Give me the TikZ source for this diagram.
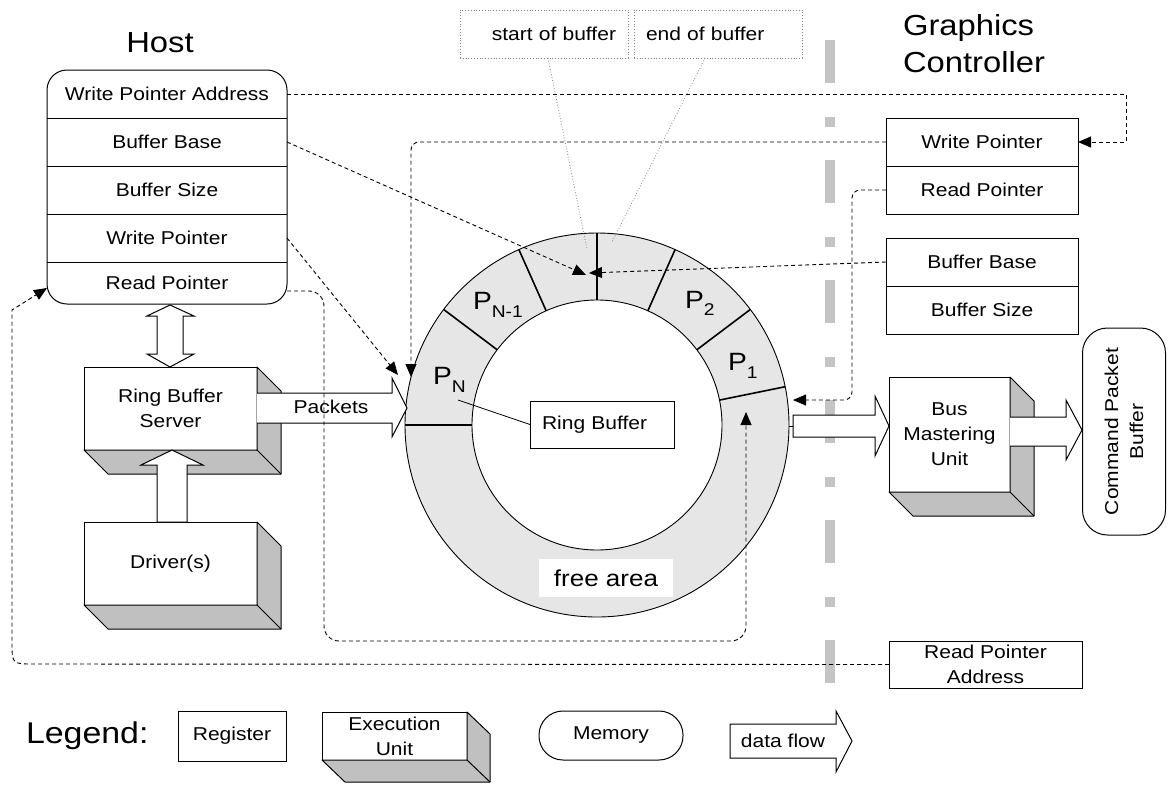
\documentclass[tikz,border=0pt]{standalone}
\usepackage{fontspec}
\setmainfont{Liberation Sans}[FakeStretch=1.13]
\usetikzlibrary{arrows.meta,calc}
\definecolor{shadegray}{HTML}{C0C0C0}
\definecolor{ringfill}{HTML}{E6E6E6}
\definecolor{divgray}{HTML}{C4C4C4}
\definecolor{dotgray}{HTML}{808080}
\newcommand\boxshade[1]{%
  \filldraw[fill=shadegray, line width=1pt, line join=round] (#1.north east) -- ++(24,24) -- ([shift={(24,24)}]#1.south east) -- ([shift={(24,24)}]#1.south west) -- (#1.south west) -- (#1.south east) -- cycle;
  \draw[line width=1pt] (#1.south east) -- ++(24,24);}
\newcommand\legshade[1]{%
  \filldraw[fill=shadegray, line width=1pt, line join=round] (#1.north east) -- ++(23,22) -- ([shift={(23,22)}]#1.south east) -- ([shift={(23,22)}]#1.south west) -- (#1.south west) -- (#1.south east) -- cycle;
  \draw[line width=1pt] (#1.south east) -- ++(23,22);}
\begin{document}
\begin{tikzpicture}[x=1pt,y=-1pt,
  every node/.style={font=\fontsize{18.6}{25}\selectfont, inner sep=0pt, outer sep=0pt},
  reg/.style={draw, line width=1pt, minimum width=192pt, minimum height=48pt},
  hostrow/.style={minimum width=240pt, minimum height=48pt},
  execbox/.style={draw, line width=1pt, fill=white, align=center},
  ptr/.style={dash pattern=on 4pt off 3pt, line width=0.9pt},
  ptrarrow/.style={ptr, -{Triangle[length=13pt,width=11pt]}},
  flowarrow/.style={draw, fill=white, line width=1pt, line join=miter},
  dotbox/.style={draw=dotgray, dotted, line width=0.8pt, minimum width=168pt, minimum height=48pt, text width=144pt},
]
\useasboundingbox (0,0) rectangle (1170,785);

% divider between host and graphics controller
\draw[divgray, line width=10pt, dash pattern=on 43pt off 34pt on 10pt off 33pt] (830,40) -- (830,683);

% ---------------- Host ----------------
\node[font=\fontsize{29}{32}\selectfont] (hosttitle) at (160,43) {Host};
\node[draw, line width=1pt, rounded corners=20pt, minimum width=240pt, minimum height=234pt] (host) at (167,187) {};
\node[hostrow] (hwpa) at (167,94) {Write Pointer Address};
\node[hostrow] (hbb) at (167,142) {Buffer Base};
\node[hostrow] (hbs) at (167,190) {Buffer Size};
\node[hostrow] (hwp) at (167,238) {Write Pointer};
\node[hostrow, minimum height=42pt] (hrp) at (167,283) {Read Pointer};
\foreach \r in {hwpa,hbb,hbs,hwp} \draw[line width=1pt] (\r.south west) -- (\r.south east);

% Ring Buffer Server and Driver(s)
\node[execbox, minimum width=173pt, minimum height=83pt] (rbs) at (170.5,408.5) {Ring Buffer\\Server};
\boxshade{rbs}
\node[execbox, minimum width=173pt, minimum height=83pt] (drv) at (170.5,563.5) {Driver(s)};
\boxshade{drv}

% double arrow host <-> server
\filldraw[flowarrow] (170,305) -- (194,316) -- (183,316) -- (183,354) -- (194,354) -- (170,367) -- (147,354) -- (157,354) -- (157,316) -- (147,316) -- cycle;
% up arrow driver -> server
\filldraw[flowarrow] (172,450) -- (203,465) -- (187,465) -- (187,522) -- (157,522) -- (157,465) -- (141,465) -- cycle;

% ---------------- Ring ----------------
\coordinate (rc) at (597,425);
\fill[ringfill, even odd rule] (rc) circle[radius=192pt] (rc) circle[radius=125pt];
\draw[line width=0.9pt] (rc) circle[radius=192pt];
\draw[line width=0.9pt] (rc) circle[radius=125pt];
\foreach \a in {11.5,37,66,114,143,180}
  \draw[line width=1.6pt] ($(rc)+(\a:125pt)$) -- ($(rc)+(\a:192pt)$);
\draw[line width=2.8pt] ($(rc)+(90:125pt)$) -- ($(rc)+(90:192pt)$);

\node[anchor=base west, font=\fontsize{25}{25}\selectfont] (pn) at (433,384) {P\raisebox{-8pt}{\fontsize{17}{17}\selectfont N}};
\node[anchor=base west, font=\fontsize{25}{25}\selectfont] (pn1) at (473,309) {P\raisebox{-8pt}{\fontsize{17}{17}\selectfont N-1}};
\node[anchor=base west, font=\fontsize{25}{25}\selectfont] (p2) at (685,308) {P\raisebox{-7pt}{\fontsize{17}{17}\selectfont 2}};
\node[anchor=base west, font=\fontsize{25}{25}\selectfont] (p1) at (728,370) {P\raisebox{-8pt}{\fontsize{17}{17}\selectfont 1}};

\node[draw, line width=1pt, fill=white, minimum width=144pt, minimum height=47pt, text width=120pt, align=left] (rblab) at (602,424.5) {Ring Buffer};
\coordinate (pnleader) at (458,400);
\draw[line width=0.8pt] (pnleader) -- (rblab.west);
\node[fill=white, minimum width=134pt, minimum height=38pt, font=\fontsize{23}{23}\selectfont] (free) at (606,578) {free area};

% packets arrow
\filldraw[fill=white, draw=none] (257,393) -- (392,393) -- (392,378) -- (407,408) -- (392,437) -- (392,423) -- (257,423) -- cycle;
\draw[line width=1pt, line join=miter] (257,393) -- (392,393) -- (392,378) -- (407,408) -- (392,437) -- (392,423) -- (257,423);
\node (packets) at (331,407) {Packets};

% start / end of buffer
\node[dotbox, align=right] (sob) at (544,34) {start of buffer};
\node[dotbox, align=left] (eob) at (718,34) {end of buffer};
\coordinate (sobtip) at (587,249);
\coordinate (eobtip) at (612,242);
\draw[dotgray, dotted, line width=0.8pt] ([xshift=4pt]sob.south) -- (sobtip);
\draw[dotgray, dotted, line width=0.8pt] ([xshift=-13pt]eob.south) -- (eobtip);

% ---------------- Graphics Controller ----------------
\node[anchor=north west, align=left, font=\fontsize{29}{37}\selectfont] (gctitle) at (903,14) {Graphics\\Controller};
\node[reg] (gcwp) at (982,142) {Write Pointer};
\node[reg] (gcrp) at (982,190) {Read Pointer};
\node[reg] (gcbb) at (982,262) {Buffer Base};
\node[reg] (gcbs) at (982,310) {Buffer Size};
\node[execbox, minimum width=121pt, minimum height=115pt] (bmu) at (949.5,434.5) {Bus\\Mastering\\Unit};
\boxshade{bmu}
\node[draw, line width=1pt, rounded corners=25pt, rotate=90, minimum width=207pt, minimum height=83pt, align=center] (cpb) at (1124,431.5) {Command Packet\\Buffer};
\node[draw, line width=1pt, minimum width=193pt, minimum height=47pt, align=center] (gcrpa) at (985.5,664.5) {Read Pointer\\Address};

% ring -> bus mastering unit
\draw[line width=1pt] (789,426) -- (793,426);
\filldraw[flowarrow] (793,415) -- (875,415) -- (875,396) -- (889,426) -- (875,456) -- (875,437) -- (793,437) -- cycle;
% bus mastering unit -> command packet buffer
\filldraw[fill=white, draw=none] (1010,417) -- (1066,417) -- (1066,400) -- (1082,430) -- (1066,460) -- (1066,446) -- (1010,446) -- cycle;
\draw[line width=1pt, line join=miter] (1010,417) -- (1066,417) -- (1066,400) -- (1082,430) -- (1066,460) -- (1066,446) -- (1010,446);

% ---------------- pointer connectors ----------------
\coordinate (wpcorner) at (1126,94);
\coordinate (wpdown) at (1126,142);
\draw[ptrarrow] (hwpa.east) -- (wpcorner) -- (wpdown) -- (gcwp.east);
\coordinate (pntop) at (411,377);
\draw[ptrarrow, rounded corners=8pt] (gcwp.west) -- (411,142) -- (pntop);
\coordinate (bbtipl) at (586,275);
\coordinate (bbtipr) at (589,273);
\draw[ptrarrow] (hbb.east) -- (bbtipl);
\draw[ptrarrow] (gcbb.west) -- (bbtipr);
\coordinate (wptip) at (398,375);
\draw[ptrarrow] (hwp.east) -- (wptip);
\coordinate (rptip) at (746,412);
\draw[ptrarrow, rounded corners=15pt] ([yshift=-8pt]hrp.east) -- (324,291) -- (324,641) -- (746,641) -- (rptip);
\coordinate (gcrptip) at (793,400);
\draw[ptrarrow, rounded corners=8pt] (gcrp.west) -- (852,190) -- (852,400) -- (gcrptip);
\coordinate (hrpin) at (47,288);
\draw[ptrarrow] (gcrpa.west) -- (34,664) .. controls (12,664) .. (12,642) -- (12,310) -- (hrpin);

% ---------------- Legend ----------------
\node[anchor=west, font=\fontsize{30}{30}\selectfont] (legend) at (26,736) {Legend:};
\node[draw, line width=1pt, minimum width=108pt, minimum height=50pt] (lreg) at (232,736) {Register};
\node[execbox, minimum width=145pt, minimum height=48pt] (lexec) at (394.5,736) {Execution\\Unit};
\legshade{lexec}
\node[draw, line width=1pt, rounded corners=24pt, minimum width=144pt, minimum height=49pt] (lmem) at (611,735.5) {Memory};
\filldraw[flowarrow] (730,724) -- (836,724) -- (836,711) -- (852,741) -- (836,772) -- (836,758) -- (730,758) -- cycle;
\node (lflow) at (783,741) {data flow};
\end{tikzpicture}
\end{document}
